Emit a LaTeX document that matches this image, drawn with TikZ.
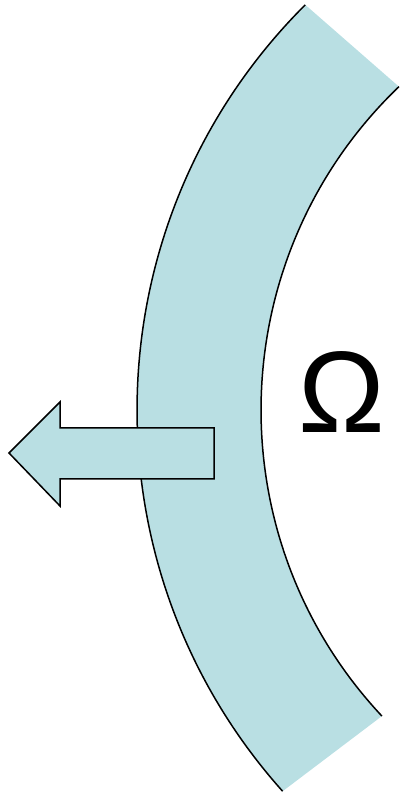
\documentclass[tikz,border=0pt]{standalone}
\usepackage{fontspec}
\setmainfont{Liberation Sans}
\usetikzlibrary{calc}
\definecolor{bandfill}{RGB}{185,223,227}
\begin{document}
\begin{tikzpicture}[x=1pt,y=1pt,
  edge/.style={line width=1.5pt,black},
  shapefill/.style={fill=bandfill}]
\useasboundingbox (0,0) rectangle (399,799);
\coordinate (c) at (709,389);
% band fill
\fill[bandfill] ($(c)+(134.9:572)$) arc[start angle=134.9,end angle=221.8,radius=572]
  -- ($(c)+(223.1:448)$) arc[start angle=223.1,end angle=133.8,radius=448] -- cycle;
% curved edges
\draw[edge] ($(c)+(134.9:572)$) arc[start angle=134.9,end angle=221.8,radius=572];
\draw[edge] ($(c)+(133.8:448)$) arc[start angle=133.8,end angle=223.1,radius=448];
% arrow
\draw[edge,shapefill,line join=miter] (9,346) -- (60,397) -- (60,371) -- (214,371)
  -- (214,320) -- (60,320) -- (60,293) -- cycle;
\node[anchor=base,inner sep=0pt,font=\fontsize{116}{116}\selectfont] (omega) at (342,366) {Ω};
\end{tikzpicture}
\end{document}
